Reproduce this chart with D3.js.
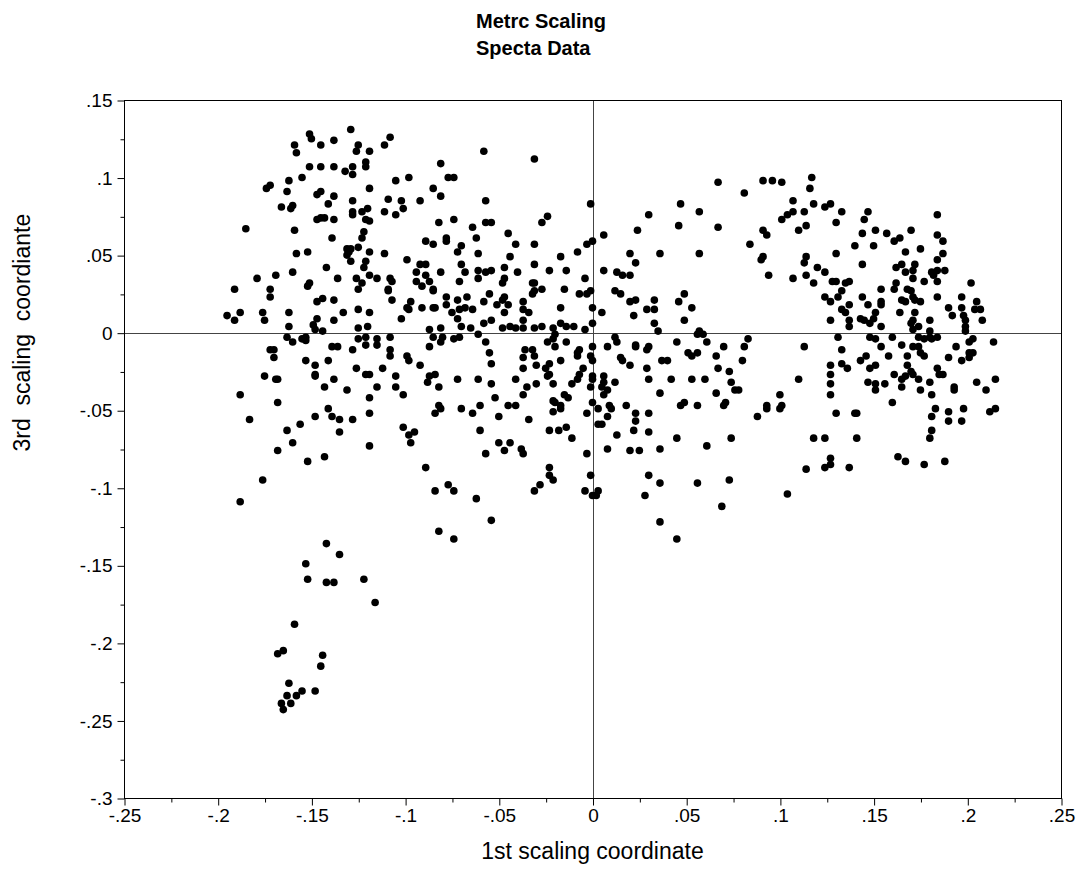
<!DOCTYPE html>
<html>
<head>
<meta charset="utf-8">
<script src="https://cdn.jsdelivr.net/npm/d3@7"></script>
<style>
  html, body { margin: 0; padding: 0; background: #fff; }
  svg { display: block; font-family: "Liberation Sans", Arial, sans-serif; }
</style>
</head>
<body>
<svg id="chart" width="1087" height="888"></svg>
<script>
// Titles and axis text
const titleLines = ["Metrc Scaling", "Specta Data"];
const xAxisTitle = "1st scaling coordinate";
const yAxisTitle = "3rd  scaling  coordiante";

// Tick positions and their printed labels
const xTickValues = [-.25, -.2, -.15, -.1, -.05, 0, .05, .1, .15, .2, .25];
const xTickLabels = ["-.25", "-.2", "-.15", "-.1", "-.05", "0", ".05", ".1", ".15", ".2", ".25"];
const xMinorTicks = [-.225, -.175, -.125, -.075, -.025, .025, .075, .125, .175, .225];
const yTickValues = [-.3, -.25, -.2, -.15, -.1, -.05, 0, .05, .1, .15];
const yTickLabels = ["-.3", "-.25", "-.2", "-.15", "-.1", "-.05", "0", ".05", ".1", ".15"];
const yMinorTicks = [-.275, -.225, -.175, -.125, -.075, -.025, .025, .075, .125];

// 1st scaling coordinate of each spectrum
const coord1 = [
  -.129,-.151,-.150,-.138,-.159,-.145,-.125,-.126,-.158,-.151,
  -.145,-.138,-.128,-.132,-.128,-.121,-.121,-.155,-.162,-.174,
  -.172,-.163,-.147,-.145,-.138,-.141,-.128,-.166,-.161,-.160,
  -.128,-.128,-.123,-.120,-.147,-.145,-.143,-.138,-.121,-.185,
  -.159,-.139,-.122,-.123,-.152,-.158,-.131,-.130,-.129,-.125,
  -.131,-.129,-.121,-.122,-.142,-.179,-.169,-.160,-.136,-.126,
  -.123,-.125,-.191,-.172,-.172,-.152,-.151,-.147,-.144,-.138,
  -.195,-.188,-.191,-.176,-.175,-.162,-.133,-.125,-.147,-.149,
  -.138,-.162,-.148,-.125,-.120,-.144,-.119,-.119,-.119,-.119,
  -.119,-.119,

  -.108,-.111,-.058,-.081,-.077,-.074,-.098,-.105,-.085,-.081,
  -.109,-.102,-.101,-.092,-.111,-.105,-.057,-.082,-.074,-.057,
  -.054,-.064,-.045,-.078,-.078,-.089,-.085,-.062,-.041,-.070,
  -.072,-.061,-.111,-.044,-.099,-.092,-.089,-.070,-.094,-.089,
  -.081,-.068,-.061,-.054,-.057,-.061,-.047,-.040,-.115,-.047,
  -.048,-.108,-.107,-.109,-.109,-.094,-.091,-.087,-.085,-.085,
  -.071,-.107,-.078,-.072,-.067,-.055,-.058,-.047,-.048,-.051,
  -.045,-.037,-.097,-.099,-.098,-.091,-.085,-.084,-.078,-.075,
  -.071,-.068,-.064,-.047,-.037,-.102,-.072,-.087,-.081,-.070,
  -.065,-.058,-.054,-.048,-.044,-.041,-.037,-.037,

  -.031,-.001,.047,-.024,-.027,.030,.024,.046,-.031,.006,
  -.003,.000,-.008,-.017,.020,.036,.023,-.031,-.023,-.014,
  .006,-.004,.013,.016,.020,-.032,-.031,-.027,-.015,-.032,
  -.031,-.007,-.003,-.001,.012,.015,.049,.020,.023,.033,
  .046,-.017,.000,.005,.029,.033,.022,-.034,-.027,-.021,
  -.017,-.014,-.010,.000,-.004,.033,-.031,.035,.049,

  .067,.091,.096,.101,.117,.116,.081,.107,.118,.124,
  .127,.133,.057,.113,.107,.104,.101,.130,.110,.114,
  .067,.091,.093,.084,.057,.130,.091,.090,.114,.113,
  .120,.124,.094,.107,.114,.118,.128,.130,.133,.124,
  .127,.131,.133,.053,.127,.057,

  .147,.145,.184,.144,.151,.157,.170,.184,.187,.161,
  .164,.140,.150,.167,.175,.187,.184,.144,.162,.165,
  .167,.172,.171,.171,.177,.181,.182,.184,.188,.184,
  .202,.137,.135,.154,.162,.161,.168,.170,.144,.154,
  .154,.165,.167,.171,.172,.175,.184,.197,.137,.147,
  .205,.190,.197,.135,.151,.150,.164,.172,.192,.204,
  .207,.198,.199,.199,.143,.145,.148,.137,.137,.154,
  .170,.171,.174,.180,.208,.171,.180,.199,

  -.163,-.160,-.155,-.153,-.125,-.121,-.121,-.172,-.170,-.170,
  -.153,-.148,-.141,-.139,-.136,-.128,-.126,-.175,-.169,-.168,
  -.148,-.148,-.138,-.121,-.119,-.143,-.131,-.188,-.168,-.119,
  -.141,-.139,-.135,-.148,-.128,-.156,-.163,-.135,-.119,-.183,
  -.160,-.168,-.119,-.152,-.143,-.176,-.188,-.142,-.153,

  -.115,-.115,-.108,-.108,-.108,-.099,-.098,-.092,-.112,-.087,
  -.085,-.081,-.080,-.074,-.071,-.061,-.057,-.055,-.054,-.036,
  -.037,-.037,-.087,-.084,-.088,-.082,-.072,-.061,-.054,-.041,
  -.035,-.037,-.105,-.115,-.105,-.101,-.052,-.082,-.081,-.084,
  -.070,-.064,-.060,-.045,-.041,-.050,-.101,-.095,-.098,-.097,
  -.060,-.050,-.044,-.047,-.038,-.037,-.057,-.089,-.084,-.077,
  -.074,-.062,-.054,-.082,-.074,

  -.024,-.021,-.020,-.014,-.032,-.031,-.020,-.017,-.030,-.025,
  -.023,-.008,-.007,-.008,.000,-.001,.000,.008,.012,.013,
  .023,.023,.029,.030,.015,.016,.020,.045,.029,.037,
  .040,-.024,-.023,-.005,-.007,-.008,.000,.000,.006,.006,
  .005,.012,.030,.042,-.030,-.021,-.011,-.001,.008,.006,
  .036,-.015,-.013,-.021,-.020,-.017,-.017,-.021,.000,.003,
  .009,.010,.018,.047,.049,-.003,.008,.023,.030,.023,
  .003,.005,-.034,-.023,-.018,-.014,-.011,.013,.022,.030,
  .045,-.003,.008,.020,.025,.036,-.023,-.023,-.021,-.001,
  .030,.036,-.028,-.031,-.004,.000,.002,.003,.028,.036,.045,

  .056,.059,.061,.083,.081,.070,.066,.051,.053,.056,
  .080,.067,.073,.074,.076,.078,.066,.053,.060,.056,
  .070,.071,.088,.093,.093,.100,.100,.101,.110,.113,
  .131,.133,.133,.127,.127,.127,.127,.130,.074,.061,
  .118,.124,.127,.127,.124,.114,.056,.073,.104,.069,

  .148,.151,.160,.154,.165,.174,.177,.180,.181,.184,
  .171,.174,.175,.177,.168,.158,.136,.143,.146,.148,
  .151,.194,.203,.201,.201,.203,.201,.190,.197,.214,
  .168,.170,.171,.167,.165,.161,.184,.185,.187,.174,
  .180,.147,.151,.151,.156,.165,.175,.181,.193,.193,
  .205,.210,.215,.160,.140,.141,.183,.181,.190,.198,
  .190,.197,.212,.215,.181,.180,.141,.163,.167,.177,
  .188,.137,

  -.135,-.153,-.152,-.142,-.138,-.122,-.116,-.159,-.168,-.165,
  -.144,-.145,-.162,-.155,-.158,-.163,-.148,-.166,-.161,-.165
];

// 3rd scaling coordinate of each spectrum (same order as coord1)
const coord3 = [
  .131,.128,.125,.124,.121,.121,.121,.117,.116,.107,
  .107,.107,.107,.104,.102,.110,.107,.100,.098,.093,
  .095,.091,.089,.091,.088,.083,.085,.081,.080,.082,
  .078,.076,.078,.080,.073,.074,.074,.073,.073,.067,
  .066,.061,.065,.061,.052,.051,.054,.052,.054,.055,
  .050,.046,.046,.042,.042,.035,.037,.039,.035,.035,
  .032,.028,.028,.028,.023,.030,.032,.020,.022,.021,
  .011,.013,.008,.013,.008,.013,.013,.015,.009,.005,
  .008,.004,.002,.003,.004,.001,.117,.093,.072,.052,
  .013,.037,

  .126,.121,.117,.109,.100,.100,.100,.098,.093,.088,
  .086,.085,.080,.085,.078,.076,.085,.071,.073,.071,
  .071,.068,.064,.061,.059,.059,.057,.061,.057,.056,
  .052,.051,.051,.049,.047,.044,.044,.044,.039,.037,
  .039,.039,.040,.040,.039,.035,.042,.039,.035,.035,
  .032,.035,.033,.028,.027,.033,.030,.033,.028,.027,
  .033,.021,.023,.021,.023,.025,.020,.023,.021,.018,
  .018,.020,.020,.016,.015,.016,.016,.016,.018,.013,
  .015,.016,.015,.013,.015,.009,.009,.002,.003,.004,
  .003,.006,.008,.003,.004,.003,.008,.003,

  .112,.083,.083,.075,.071,.076,.066,.069,.057,.063,
  .057,.059,.052,.049,.051,.051,.045,.044,.040,.040,
  .040,.035,.039,.037,.037,.032,.032,.028,.028,.025,
  .027,.025,.025,.027,.027,.025,.025,.020,.021,.021,
  .020,.016,.016,.013,.015,.015,.011,.013,.004,.003,
  .006,.004,.004,.006,.002,.006,.003,.001,.008,

  .097,.098,.098,.097,.100,.093,.090,.085,.083,.081,
  .083,.078,.078,.078,.078,.076,.073,.071,.066,.069,
  .068,.066,.063,.057,.051,.051,.049,.047,.049,.045,
  .042,.039,.037,.035,.037,.032,.033,.033,.027,.023,
  .020,.023,.015,.016,.008,.001,

  .078,.073,.076,.064,.066,.064,.066,.063,.059,.059,
  .061,.056,.056,.052,.054,.051,.047,.044,.042,.044,
  .039,.044,.040,.035,.033,.039,.037,.033,.040,.040,
  .032,.033,.032,.028,.032,.028,.028,.027,.023,.020,
  .018,.021,.020,.023,.021,.020,.023,.023,.018,.018,
  .020,.016,.016,.013,.013,.009,.013,.013,.011,.015,
  .015,.011,.008,.004,.009,.008,.006,.008,.004,.004,
  .006,.008,.004,.008,.008,.002,.001,.001,

  -.003,-.006,-.004,-.003,-.004,-.003,-.008,-.011,-.011,-.016,
  -.018,-.021,-.018,-.009,-.009,-.011,-.023,-.028,-.030,-.030,
  -.027,-.028,-.030,-.027,-.027,-.035,-.037,-.040,-.045,-.042,
  -.049,-.054,-.056,-.054,-.056,-.059,-.063,-.064,-.052,-.056,
  -.071,-.076,-.073,-.083,-.080,-.095,-.109,-.136,-.005,

  -.004,-.008,-.003,-.011,-.015,-.015,-.018,-.021,-.023,-.009,
  -.003,-.006,-.003,-.004,-.003,-.001,-.006,-.013,-.020,-.011,
  -.016,-.023,-.028,-.027,-.032,-.035,-.030,-.030,-.033,-.030,
  -.035,-.040,-.028,-.035,-.035,-.040,-.042,-.047,-.049,-.052,
  -.049,-.052,-.047,-.047,-.047,-.054,-.061,-.064,-.066,-.071,
  -.063,-.071,-.071,-.076,-.075,-.078,-.078,-.087,-.102,-.098,
  -.102,-.107,-.121,-.128,-.133,

  -.006,-.004,-.001,-.006,-.011,-.015,-.009,-.018,-.021,-.023,
  -.020,-.013,-.011,-.015,-.009,-.015,-.018,-.009,-.003,-.006,
  -.008,-.009,-.011,-.009,-.016,-.018,-.021,-.006,-.023,-.018,
  -.018,-.028,-.027,-.023,-.027,-.030,-.028,-.030,-.028,-.032,
  -.035,-.032,-.030,-.030,-.033,-.033,-.033,-.035,-.037,-.040,
  -.039,-.040,-.042,-.044,-.045,-.047,-.049,-.051,-.045,-.049,
  -.047,-.049,-.047,-.047,-.045,-.052,-.054,-.052,-.052,-.057,
  -.059,-.059,-.056,-.063,-.063,-.061,-.068,-.066,-.063,-.064,
  -.068,-.078,-.075,-.076,-.076,-.075,-.087,-.092,-.095,-.092,
  -.092,-.097,-.098,-.102,-.102,-.105,-.105,-.102,-.105,-.122,-.133,

  -.001,-.001,-.006,-.004,-.009,-.009,-.015,-.013,-.015,-.013,
  -.018,-.023,-.025,-.032,-.037,-.037,-.039,-.030,-.030,-.047,
  -.047,-.045,-.054,-.047,-.049,-.040,-.049,-.047,-.030,-.009,
  -.003,-.011,-.020,-.021,-.027,-.033,-.040,-.052,-.068,-.073,
  -.068,-.068,-.081,-.085,-.087,-.088,-.097,-.095,-.104,-.112,

  -.003,-.004,-.003,-.009,-.008,-.003,-.004,-.003,-.004,-.003,
  -.009,-.009,-.013,-.015,-.015,-.015,-.023,-.018,-.015,-.023,
  -.021,-.009,-.004,-.006,-.013,-.013,-.016,-.016,-.018,-.006,
  -.021,-.025,-.027,-.028,-.030,-.027,-.023,-.027,-.027,-.030,
  -.032,-.032,-.033,-.037,-.033,-.035,-.037,-.040,-.035,-.037,
  -.032,-.037,-.030,-.045,-.052,-.052,-.049,-.054,-.051,-.049,
  -.057,-.057,-.051,-.049,-.063,-.068,-.068,-.080,-.083,-.085,
  -.083,-.087,

  -.143,-.149,-.159,-.161,-.161,-.159,-.174,-.188,-.207,-.205,
  -.208,-.215,-.226,-.231,-.234,-.234,-.231,-.239,-.239,-.243
];

// ---- layout ----
const svg = d3.select("#chart");
const plot = { left: 124, right: 1061, top: 100, bottom: 798 };

const x = d3.scaleLinear().domain([-.25, .25]).range([plot.left, plot.right]);
const y = d3.scaleLinear().domain([-.3, .15]).range([plot.bottom, plot.top]);

// zero reference lines
svg.append("line")
  .attr("x1", plot.left).attr("x2", plot.right)
  .attr("y1", Math.round(y(0)) + 0.5).attr("y2", Math.round(y(0)) + 0.5)
  .attr("stroke", "#444").attr("stroke-width", 1);
svg.append("line")
  .attr("x1", Math.round(x(0)) + 0.5).attr("x2", Math.round(x(0)) + 0.5)
  .attr("y1", plot.top).attr("y2", plot.bottom)
  .attr("stroke", "#444").attr("stroke-width", 1);

// plot frame
svg.append("rect")
  .attr("x", plot.left + 0.5).attr("y", plot.top + 0.5)
  .attr("width", plot.right - plot.left).attr("height", plot.bottom - plot.top)
  .attr("fill", "none").attr("stroke", "#000").attr("stroke-width", 1);

// axes: major ticks with labels, minor ticks without
const fontSize = 19;
svg.append("g")
  .attr("transform", `translate(0.5,${plot.bottom + 0.5})`)
  .call(d3.axisBottom(x).tickValues(xTickValues)
    .tickFormat((d, i) => xTickLabels[i]).tickSize(7).tickPadding(3));
svg.append("g")
  .attr("transform", `translate(0.5,${plot.bottom + 0.5})`)
  .call(d3.axisBottom(x).tickValues(xMinorTicks).tickFormat("").tickSize(4));

svg.append("g")
  .attr("transform", `translate(${plot.left + 0.5},0.5)`)
  .call(d3.axisLeft(y).tickValues(yTickValues)
    .tickFormat((d, i) => yTickLabels[i]).tickSize(7).tickPadding(5));
svg.append("g")
  .attr("transform", `translate(${plot.left + 0.5},0.5)`)
  .call(d3.axisLeft(y).tickValues(yMinorTicks).tickFormat("").tickSize(4));

svg.selectAll(".domain").remove();
svg.selectAll(".tick line").attr("stroke", "#000");
svg.selectAll(".tick text")
  .attr("fill", "#000")
  .style("font-family", '"Liberation Sans", Arial, sans-serif')
  .style("font-size", fontSize + "px");

// points
const points = d3.zip(coord1, coord3);
svg.append("g")
  .selectAll("circle")
  .data(points)
  .join("circle")
  .attr("cx", d => x(d[0]))
  .attr("cy", d => y(d[1]))
  .attr("r", 3.8)
  .attr("fill", "#000");

// title block
svg.append("text")
  .attr("x", 476).attr("y", 28)
  .style("font-size", "20px").style("font-weight", "bold")
  .selectAll("tspan")
  .data(titleLines)
  .join("tspan")
  .attr("x", 476)
  .attr("dy", (d, i) => i === 0 ? 0 : 27)
  .text(d => d);

// axis titles
svg.append("text")
  .attr("x", (plot.left + plot.right) / 2).attr("y", 859)
  .attr("text-anchor", "middle")
  .style("font-size", "23px")
  .text(xAxisTitle);

svg.append("text")
  .attr("transform", `translate(30,${y(0)}) rotate(-90)`)
  .attr("text-anchor", "middle")
  .style("font-size", "23px")
  .style("white-space", "pre")
  .text(yAxisTitle);
</script>
</body>
</html>
